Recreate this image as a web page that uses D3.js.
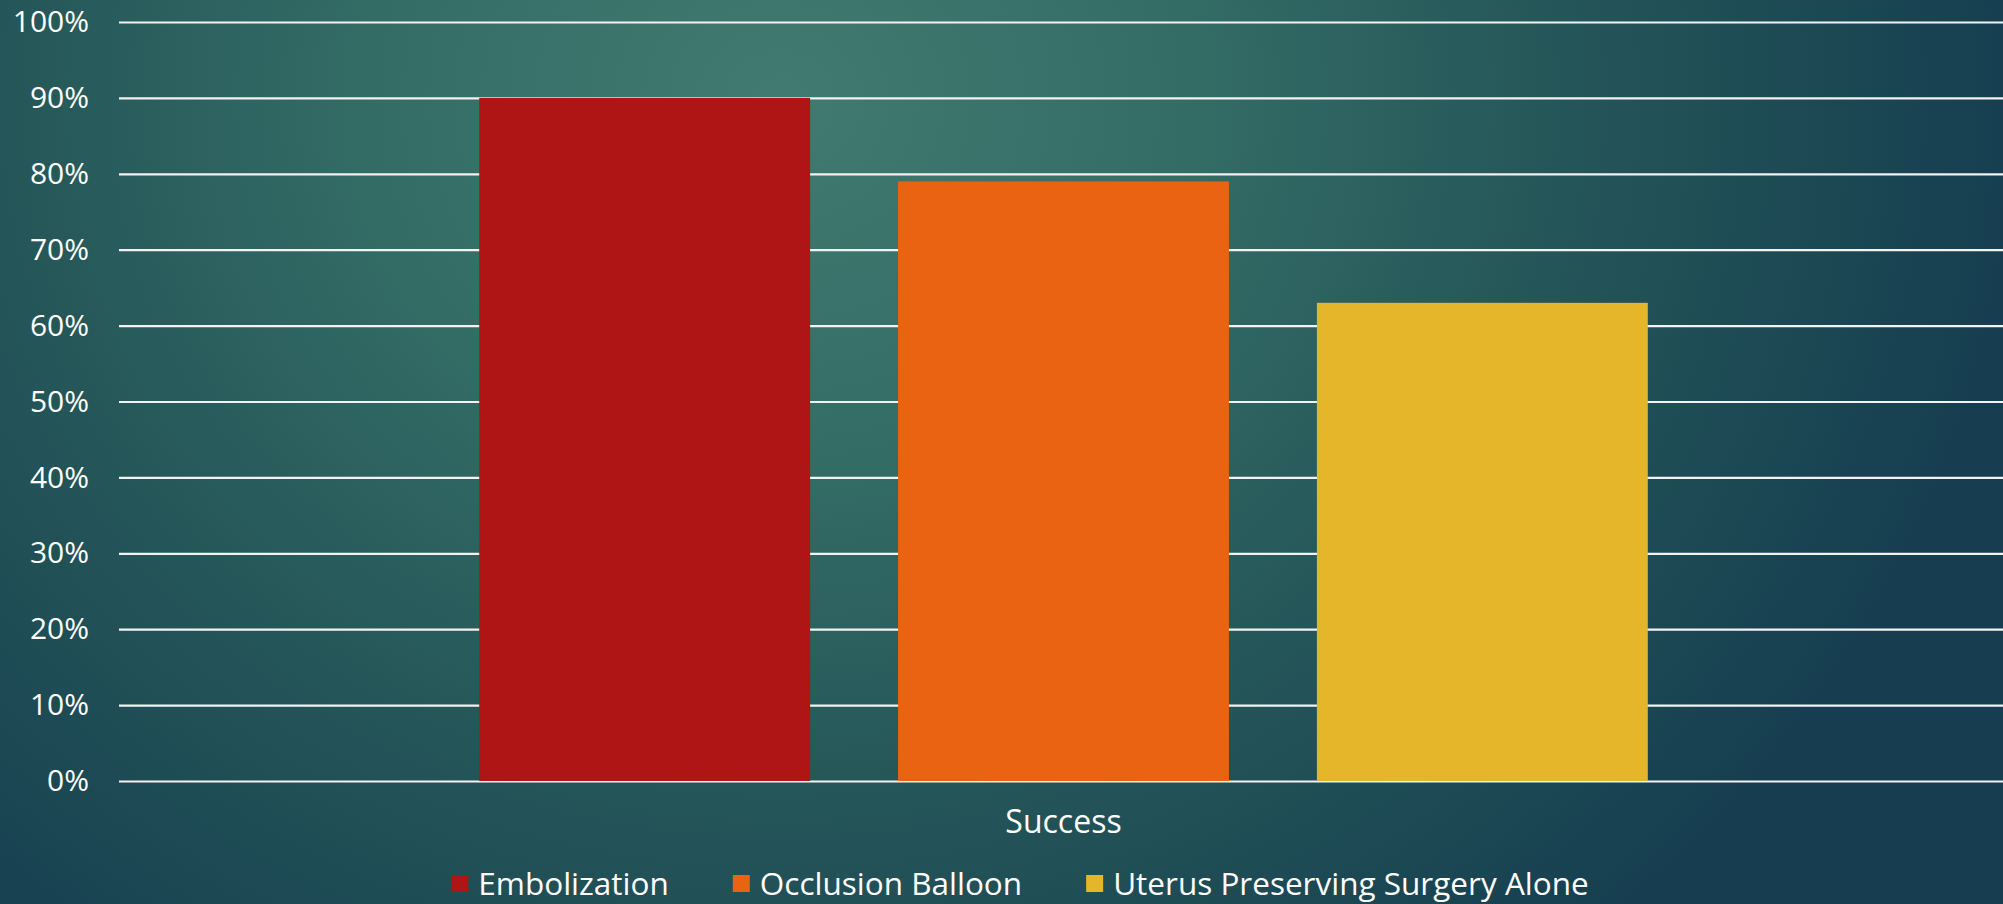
<!DOCTYPE html>
<html>
<head>
<meta charset="utf-8">
<script src="https://cdn.jsdelivr.net/npm/d3@7"></script>
<style>
  html, body { margin: 0; padding: 0; background: #1d4d55; overflow: hidden; }
  text { font-family: "Open Sans", "Noto Sans", sans-serif; fill: #ffffff; }
</style>
</head>
<body>
<svg id="chart" width="2003" height="904"></svg>
<script>
const categories = ["Success"];
const seriesNames = ["Embolization", "Occlusion Balloon", "Uterus Preserving Surgery Alone"];
const seriesValues = [0.90, 0.79, 0.63];
const seriesColors = ["#b01515", "#e96313", "#e6b62a"];
const tickValues = [0, 0.1, 0.2, 0.3, 0.4, 0.5, 0.6, 0.7, 0.8, 0.9, 1.0];

const W = 2003, H = 904;
const plot = { left: 119, right: 2008, top: 22, bottom: 781 };

const svg = d3.select("#chart");

// background
const defs = svg.append("defs");
const grad = defs.append("radialGradient")
  .attr("id", "bg").attr("gradientUnits", "userSpaceOnUse")
  .attr("cx", 780).attr("cy", 100).attr("r", 1300)
  .attr("gradientTransform", "translate(780,100) scale(0.95,0.85) translate(-780,-100)");
grad.append("stop").attr("offset", 0).attr("stop-color", "#417a70");
grad.append("stop").attr("offset", 0.3).attr("stop-color", "#356e67");
grad.append("stop").attr("offset", 0.62).attr("stop-color", "#255759");
grad.append("stop").attr("offset", 1).attr("stop-color", "#163e50");
svg.append("rect").attr("width", W).attr("height", H).attr("fill", "url(#bg)");

const y = d3.scaleLinear().domain([0, 1]).range([plot.bottom, plot.top]);
const x0 = d3.scaleBand().domain(categories).range([plot.left, plot.right]).padding(0);
const x1 = d3.scaleBand().domain(seriesNames).range([0, x0.bandwidth()])
  .paddingInner(0.21).paddingOuter(0.86);

// grid + y axis
const yAxis = d3.axisLeft(y)
  .tickValues(tickValues)
  .tickFormat(d3.format(".0%"))
  .tickSize(-(W - plot.left))
  .tickPadding(30);

const gy = svg.append("g").attr("transform", `translate(${plot.left},0)`).call(yAxis);
gy.select(".domain").remove();
gy.selectAll(".tick line").attr("stroke", "#f2f2f2").attr("stroke-width", 2.2);
gy.selectAll(".tick text")
  .attr("fill", "#ffffff")
  .style("font-size", "30px")
  .style("font-family", "'Open Sans', sans-serif");

// bars
const data = seriesNames.map((name, i) => ({ name, value: seriesValues[i], color: seriesColors[i] }));
const gCat = svg.append("g").selectAll("g").data(categories).join("g")
  .attr("transform", d => `translate(${x0(d)},0)`);
gCat.selectAll("rect").data(data).join("rect")
  .attr("x", d => x1(d.name))
  .attr("width", x1.bandwidth())
  .attr("y", d => y(d.value))
  .attr("height", d => y(0) - y(d.value))
  .attr("fill", d => d.color);

// category label
svg.append("g").selectAll("text").data(categories).join("text")
  .attr("x", d => x0(d) + x0.bandwidth() / 2)
  .attr("y", 833)
  .attr("text-anchor", "middle")
  .style("font-size", "32px")
  .text(d => d);

// legend
const legend = svg.append("g");
const items = legend.selectAll("g").data(data).join("g");
items.append("rect").attr("width", 17).attr("height", 17).attr("y", 875).attr("fill", d => d.color);
items.append("text").attr("y", 895).style("font-size", "31.5px").text(d => d.name);
const gapSwatch = 10, gapItem = 64;
const widths = [];
items.each(function () {
  widths.push(d3.select(this).select("text").node().getComputedTextLength());
});
const total = widths.reduce((a, w) => a + 17 + gapSwatch + w, 0) + gapItem * (widths.length - 1);
let start = 1020 - total / 2;
items.each(function (d, i) {
  const g = d3.select(this);
  g.select("rect").attr("x", start);
  g.select("text").attr("x", start + 17 + gapSwatch);
  start += 17 + gapSwatch + widths[i] + gapItem;
});
</script>
</body>
</html>
